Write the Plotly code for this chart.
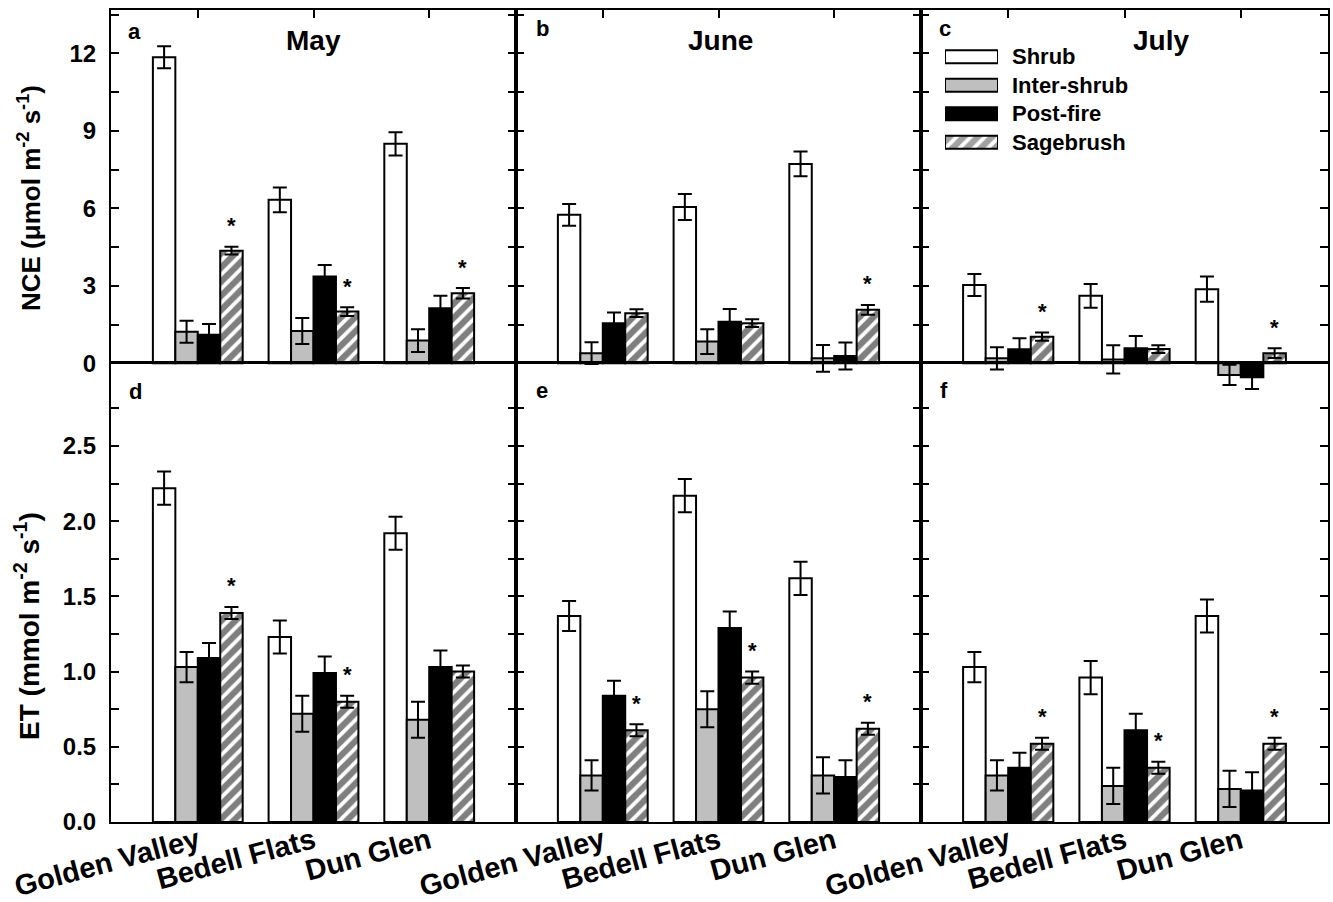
import plotly.graph_objects as go

# ---------------- data ----------------
sites = ["Golden Valley", "Bedell Flats", "Dun Glen"]
treatments = ["Shrub", "Inter-shrub", "Post-fire", "Sagebrush"]
months = ["May", "June", "July"]
panel_letters = ["a", "b", "c", "d", "e", "f"]

# rows = months (May, June, July); columns = sites
nce_shrub = [[11.85, 6.33, 8.50], [5.75, 6.05, 7.72], [3.03, 2.61, 2.87]]
nce_inter = [[1.22, 1.25, 0.88], [0.39, 0.84, 0.19], [0.19, 0.15, -0.45]]
nce_post = [[1.10, 3.36, 2.13], [1.55, 1.61, 0.28], [0.54, 0.58, -0.54]]
nce_sage = [[4.36, 2.00, 2.71], [1.94, 1.55, 2.07], [1.03, 0.55, 0.39]]
nce_shrub_se = [[0.43, 0.48, 0.45], [0.42, 0.50, 0.48], [0.43, 0.46, 0.49]]
nce_inter_se = [[0.43, 0.50, 0.44], [0.42, 0.48, 0.52], [0.43, 0.55, 0.39]]
nce_post_se = [[0.42, 0.45, 0.48], [0.42, 0.49, 0.52], [0.43, 0.48, 0.46]]
nce_sage_se = [[0.15, 0.17, 0.20], [0.15, 0.15, 0.19], [0.16, 0.15, 0.19]]
nce_star = [[1, 1, 1], [0, 0, 1], [1, 0, 1]]

et_shrub = [[2.22, 1.23, 1.92], [1.37, 2.17, 1.62], [1.03, 0.96, 1.37]]
et_inter = [[1.03, 0.72, 0.68], [0.31, 0.75, 0.31], [0.31, 0.24, 0.22]]
et_post = [[1.09, 0.99, 1.03], [0.84, 1.29, 0.30], [0.36, 0.61, 0.21]]
et_sage = [[1.39, 0.80, 1.00], [0.61, 0.96, 0.62], [0.52, 0.36, 0.52]]
et_shrub_se = [[0.11, 0.11, 0.11], [0.10, 0.11, 0.11], [0.10, 0.11, 0.11]]
et_inter_se = [[0.10, 0.12, 0.12], [0.10, 0.12, 0.12], [0.10, 0.12, 0.12]]
et_post_se = [[0.10, 0.11, 0.11], [0.10, 0.11, 0.11], [0.10, 0.11, 0.12]]
et_sage_se = [[0.04, 0.04, 0.04], [0.04, 0.04, 0.04], [0.04, 0.04, 0.04]]
et_star = [[1, 1, 0], [1, 1, 1], [1, 1, 1]]

nce_tickvals = [0, 3, 6, 9, 12]
nce_minor = [1.5, 4.5, 7.5, 10.5, 13.5]
et_tickvals = [0.0, 0.5, 1.0, 1.5, 2.0, 2.5]
et_ticktext = ["0.0", "0.5", "1.0", "1.5", "2.0", "2.5"]
et_minor = [0.25, 0.75, 1.25, 1.75, 2.25, 2.75]

# ---------------- styling / layout helpers ----------------
W, H = 1333, 902
FONT = "Liberation Sans, Arial, Helvetica, sans-serif"
def fx(px):
    return px / W
def fy(py):
    return 1 - py / H

fills = ["white", "#bfbfbf", "black", "white"]
patterns = ["", "", "", "/"]
panel_x = [(111, 516), (516, 921), (921, 1328)]
top_dom = (402, 10)          # pixel rows (bottom, top) of the upper-row axes
bot_dom = (822, 363.3)
top_range = [-1.5, 13.68]
bot_range = [0, 3.05]
BARGAP = 0.224
HATCH = dict(fgcolor="black", bgcolor="white", size=10, solidity=0.62)

rows = [
    dict(vals=[nce_shrub, nce_inter, nce_post, nce_sage],
         se=[nce_shrub_se, nce_inter_se, nce_post_se, nce_sage_se],
         star=nce_star),
    dict(vals=[et_shrub, et_inter, et_post, et_sage],
         se=[et_shrub_se, et_inter_se, et_post_se, et_sage_se],
         star=et_star),
]

fig = go.Figure()
annotations = []
bw = (1 - BARGAP) / 4
sage_off = 1.5 * bw

for r, row in enumerate(rows):
    for m in range(3):
        ax = r * 3 + m + 1
        for t in range(4):
            fig.add_trace(go.Bar(
                x=[0, 1, 2], y=row["vals"][t][m], name=treatments[t],
                error_y=dict(type="data", array=row["se"][t][m], color="black",
                             thickness=2, width=7),
                marker=dict(color=fills[t], line=dict(color="black", width=2),
                            pattern=dict(shape=patterns[t], **HATCH)),
                xaxis=f"x{ax}", yaxis=f"y{ax}", showlegend=False,
            ))
        for s in range(3):
            if row["star"][m][s]:
                annotations.append(dict(
                    x=s + sage_off, y=row["vals"][3][m][s] + row["se"][3][m][s],
                    xref=f"x{ax}", yref=f"y{ax}", text="*", showarrow=False,
                    yanchor="middle", yshift=21,
                    font=dict(size=22, color="black", family=FONT, weight="bold")))

# legend as a small horizontal bar chart on its own hidden axes
fig.add_trace(go.Bar(
    x=[1, 1, 1, 1], y=[0, 1, 2, 3], orientation="h", width=0.46,
    marker=dict(color=fills, line=dict(color="black", width=2),
                pattern=dict(shape=patterns, **HATCH)),
    xaxis="x7", yaxis="y7", showlegend=False, hoverinfo="skip",
))
leg_y = [56.7, 85, 113.3, 142]
for i, name in enumerate(treatments):
    annotations.append(dict(x=fx(1010), y=fy(leg_y[i]), xref="paper", yref="paper",
                            text=name, showarrow=False, xanchor="left", yanchor="middle",
                            font=dict(size=22, color="black", family=FONT, weight="bold")))

layout = dict(
    width=W, height=H, autosize=False,
    margin=dict(l=0, r=0, t=0, b=0, autoexpand=False),
    paper_bgcolor="white", plot_bgcolor="rgba(0,0,0,0)",
    barmode="group", bargap=BARGAP, bargroupgap=0,
    font=dict(family=FONT, color="black"),
    showlegend=False,
)

tickfont = dict(size=24, color="black", family=FONT, weight="bold")
for r in range(2):
    for m in range(3):
        ax = r * 3 + m + 1
        x0, x1 = panel_x[m]
        xa = dict(domain=[fx(x0), fx(x1)], range=[-0.75, 2.75], anchor=f"y{ax}",
                  tickvals=[0, 1, 2], showgrid=False, zeroline=False, automargin=False,
                  linecolor="black", linewidth=2, showline=True, fixedrange=True)
        ya = dict(anchor=f"x{ax}", showgrid=False, linecolor="black", linewidth=2,
                  showline=True, mirror="ticks", ticks="inside", ticklen=8,
                  tickwidth=2, tickcolor="black", tickfont=tickfont, automargin=False,
                  ticklabelstandoff=8, fixedrange=True)
        if r == 0:
            xa.update(side="top", ticks="inside", ticklen=8, tickwidth=2,
                      tickcolor="black", showticklabels=False, mirror=False)
            ya.update(domain=[fy(top_dom[0]), fy(top_dom[1])], range=top_range,
                      tickvals=nce_tickvals, ticktext=[str(v) for v in nce_tickvals],
                      zeroline=True, zerolinecolor="black", zerolinewidth=2,
                      minor=dict(tickvals=nce_minor, ticks="inside", ticklen=8,
                                 tickwidth=2, tickcolor="black"))
        else:
            xa.update(side="bottom", ticks="", ticktext=sites, tickangle=-15,
                      tickfont=dict(size=29, color="black", family=FONT, weight="bold"),
                      ticklabelstandoff=-11, mirror=True, showticklabels=True)
            ya.update(domain=[fy(bot_dom[0]), fy(bot_dom[1])], range=bot_range,
                      tickvals=et_tickvals, ticktext=et_ticktext, zeroline=False,
                      minor=dict(tickvals=et_minor, ticks="inside", ticklen=8,
                                 tickwidth=2, tickcolor="black"))
        if m != 0:
            ya["showticklabels"] = False
        layout[f"xaxis{ax}"] = xa
        layout[f"yaxis{ax}"] = ya

# hidden legend axes
layout["xaxis7"] = dict(domain=[fx(945), fx(998)], range=[0, 1], visible=False,
                        anchor="y7", fixedrange=True, automargin=False)
layout["yaxis7"] = dict(domain=[fy(156.5), fy(42.5)], range=[3.5, -0.5], visible=False,
                        anchor="x7", fixedrange=True, automargin=False)

# month titles and panel letters
title_x = [313.5, 720, 1161]
for m, name in enumerate(months):
    annotations.append(dict(x=fx(title_x[m]), y=fy(41), xref="paper", yref="paper",
                            text=name, showarrow=False, xanchor="center", yanchor="middle",
                            font=dict(size=28, color="black", family=FONT, weight="bold")))
letter_pos = [(134, 31), (542, 29), (945, 29), (135, 391), (542, 390), (944, 390)]
for i, l in enumerate(panel_letters):
    annotations.append(dict(x=fx(letter_pos[i][0]), y=fy(letter_pos[i][1]), xref="paper",
                            yref="paper", text=l, showarrow=False, xanchor="center",
                            yanchor="middle",
                            font=dict(size=22, color="black", family=FONT, weight="bold")))

# y-axis titles
annotations.append(dict(x=fx(30), y=fy(198), xref="paper", yref="paper",
                        text="NCE (μmol m<sup>-2</sup> s<sup>-1</sup>)", textangle=-90,
                        showarrow=False, xanchor="center", yanchor="middle",
                        font=dict(size=26, color="black", family=FONT, weight="bold")))
annotations.append(dict(x=fx(27), y=fy(626), xref="paper", yref="paper",
                        text="ET (mmol m<sup>-2</sup> s<sup>-1</sup>)", textangle=-90,
                        showarrow=False, xanchor="center", yanchor="middle",
                        font=dict(size=28, color="black", family=FONT, weight="bold")))

layout["annotations"] = annotations
fig.update_layout(**layout)
fig.write_html("out.html")
